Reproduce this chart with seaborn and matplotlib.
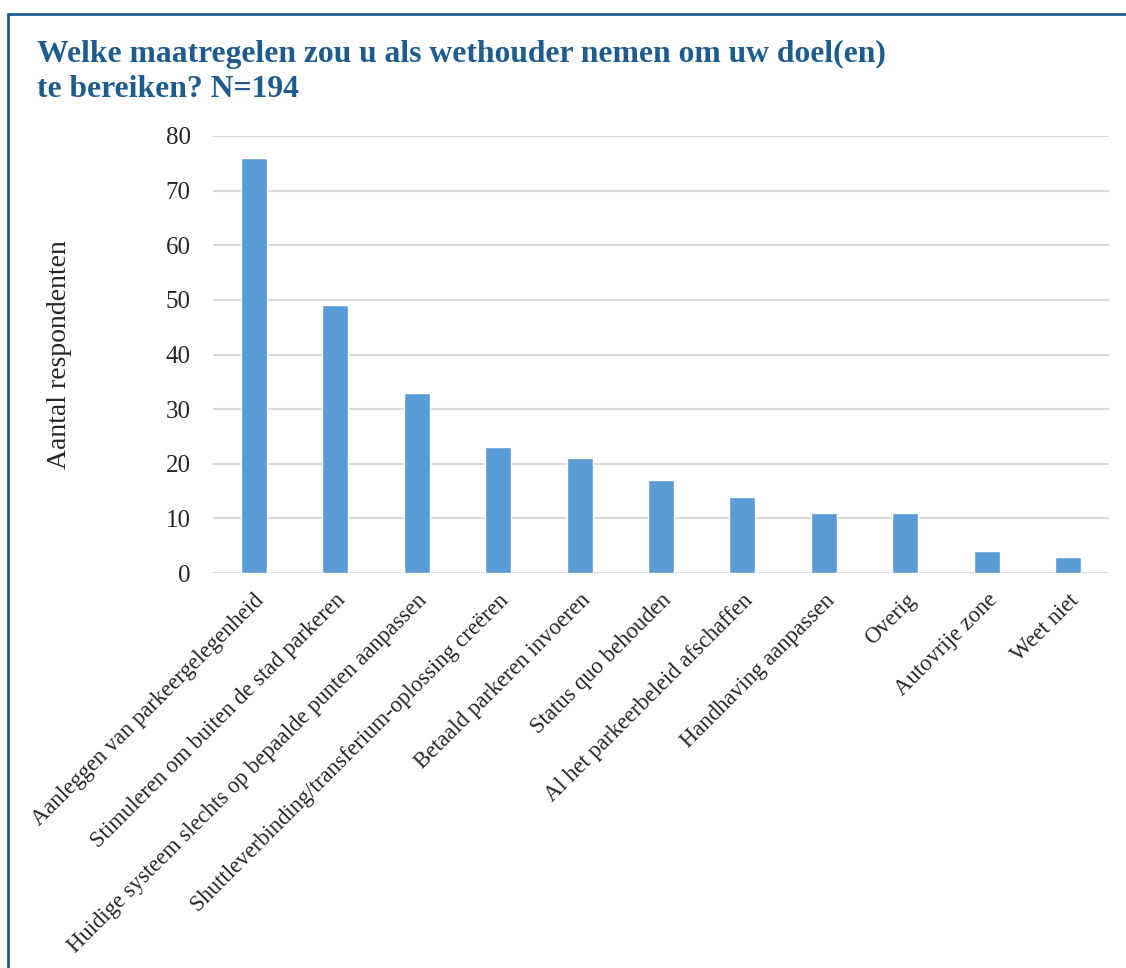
import matplotlib
matplotlib.use("Agg")
import matplotlib.pyplot as plt
import seaborn as sns
import pandas as pd

# Data
categories = [
    "Aanleggen van parkeergelegenheid",
    "Stimuleren om buiten de stad parkeren",
    "Huidige systeem slechts op bepaalde punten aanpassen",
    "Shuttleverbinding/transferium-oplossing creëren",
    "Betaald parkeren invoeren",
    "Status quo behouden",
    "Al het parkeerbeleid afschaffen",
    "Handhaving aanpassen",
    "Overig",
    "Autovrije zone",
    "Weet niet",
]
counts = [76, 49, 33, 23, 21, 17, 14, 11, 11, 4, 3]
yticks = [0, 10, 20, 30, 40, 50, 60, 70, 80]
title_lines = ["Welke maatregelen zou u als wethouder nemen om uw doel(en)",
               "te bereiken? N=194"]

df = pd.DataFrame({"maatregel": categories, "aantal": counts})

sns.set_style("white")
plt.rcParams["font.family"] = ["Liberation Serif", "DejaVu Serif"]

fig = plt.figure(figsize=(11.26, 9.68), dpi=100)
ax = fig.add_axes([213 / 1126, 1 - 573 / 968, 896 / 1126, 437 / 968])

sns.barplot(data=df, x="maatregel", y="aantal", color="#5B9BD5",
            width=0.32, saturation=1, ax=ax, zorder=3)

ax.set_ylim(0, 80)
ax.set_xlim(-0.5, len(categories) - 0.5)
ax.set_yticks(yticks)
ax.yaxis.grid(True, color="#D9D9D9", linewidth=1.5, zorder=0)
ax.set_axisbelow(True)
for s in ax.spines.values():
    s.set_visible(False)
ax.tick_params(axis="both", length=0)
ax.tick_params(axis="y", labelsize=18, pad=16)
ax.set_xticks(range(len(categories)))
ax.set_xticklabels(categories, rotation=45, ha="right", rotation_mode="anchor",
                   fontsize=16.3)
ax.tick_params(axis="x", pad=12)
ax.set_xlabel("")
ax.set_ylabel("Aantal respondenten", fontsize=20)
ax.yaxis.set_label_coords((72 - 213) / 896, 0.5)

# title, two lines
for line, ypx in zip(title_lines, [62, 97]):
    fig.text(37 / 1126, 1 - ypx / 968, line,
             fontsize=22.8, fontweight="bold", color="#1F5C8E", va="baseline")

# frame lines (top and left) as in the reference
fig.add_artist(plt.Line2D([8 / 1126, 8 / 1126], [0, 1 - 14 / 968],
                          color="#1F5C8E", linewidth=2, transform=fig.transFigure))
fig.add_artist(plt.Line2D([8 / 1126, 1], [1 - 14 / 968, 1 - 14 / 968],
                          color="#1F5C8E", linewidth=2, transform=fig.transFigure))

fig.savefig("out.png", dpi=100)
